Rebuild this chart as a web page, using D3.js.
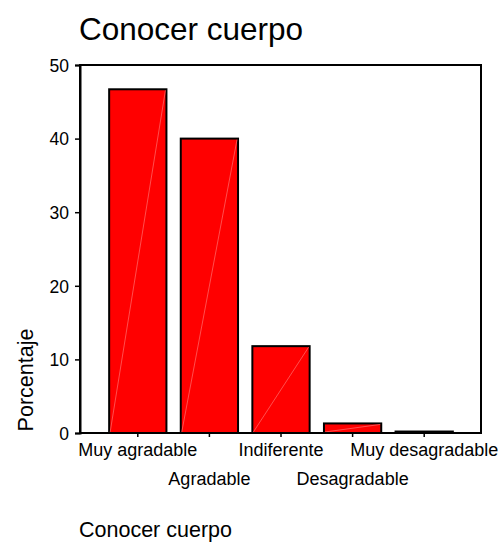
<!DOCTYPE html>
<html>
<head>
<meta charset="utf-8">
<script src="https://cdn.jsdelivr.net/npm/d3@7"></script>
<style>
  html, body { margin: 0; padding: 0; background: #fff; }
  svg { display: block; }
  text { font-family: Arial, "Liberation Sans", sans-serif; fill: #000; }
</style>
</head>
<body>
<svg id="chart" width="498" height="545"></svg>
<script>
const categories = ["Muy agradable", "Agradable", "Indiferente", "Desagradable", "Muy desagradable"];
const percentages = [46.7, 40.0, 11.8, 1.3, 0.2];
const yTicks = [0, 10, 20, 30, 40, 50];
const chartTitle = "Conocer cuerpo";
const xAxisTitle = "Conocer cuerpo";
const yAxisTitle = "Porcentaje";

const svg = d3.select("#chart");
const plot = { left: 80, right: 481, top: 65, bottom: 433 };

const x = d3.scaleBand().domain(categories).range([102, 460]).paddingInner(0.2).paddingOuter(0.1);
const y = d3.scaleLinear().domain([0, 50]).range([plot.bottom, plot.top]);

// Title
svg.append("text").attr("x", 79).attr("y", 40).attr("font-size", 31.5).text(chartTitle);

// Bars
const data = categories.map((c, i) => ({ c, v: percentages[i] }));
const g = svg.append("g");
g.selectAll("rect.bar").data(data).join("rect")
  .attr("class", "bar")
  .attr("x", d => x(d.c))
  .attr("y", d => y(d.v))
  .attr("width", x.bandwidth())
  .attr("height", d => y(0) - y(d.v))
  .attr("fill", "#ff0000")
  .attr("stroke", "#000")
  .attr("stroke-width", 2);
g.selectAll("line.diag").data(data.filter(d => y(0) - y(d.v) > 3)).join("line")
  .attr("class", "diag")
  .attr("x1", d => x(d.c) + 1).attr("y1", y(0) - 1)
  .attr("x2", d => x(d.c) + x.bandwidth() - 1).attr("y2", d => y(d.v) + 1)
  .attr("stroke", "#ff7070").attr("stroke-width", 0.7);

// Frame
svg.append("rect")
  .attr("x", plot.left).attr("y", plot.top)
  .attr("width", plot.right - plot.left).attr("height", plot.bottom - plot.top)
  .attr("fill", "none").attr("stroke", "#000").attr("stroke-width", 2);

// Y axis
const yAxis = d3.axisLeft(y).tickValues(yTicks).tickSize(5).tickPadding(6).tickFormat(d3.format("d"));
const ya = svg.append("g").attr("transform", `translate(${plot.left},0)`).call(yAxis);
ya.select(".domain").attr("stroke-width", 2);
ya.selectAll(".tick line").attr("stroke-width", 1.5);
ya.selectAll(".tick text").attr("font-size", 17.5).attr("font-family", "Arial, 'Liberation Sans', sans-serif").attr("dy", "0.36em");

// X axis
const xAxis = d3.axisBottom(x).tickSize(4).tickPadding(0);
const xa = svg.append("g").attr("transform", `translate(0,${plot.bottom})`).call(xAxis);
xa.select(".domain").remove();
xa.selectAll(".tick line").attr("stroke-width", 1.5);
xa.selectAll(".tick text")
  .attr("font-size", 18)
  .attr("font-family", "Arial, 'Liberation Sans', sans-serif")
  .attr("dy", null)
  .attr("y", (d, i) => i % 2 === 0 ? 23 : 52);

// Axis titles
svg.append("text").attr("x", 79).attr("y", 537).attr("font-size", 21.5).text(xAxisTitle);
svg.append("text")
  .attr("transform", "translate(33,380) rotate(-90)")
  .attr("text-anchor", "middle")
  .attr("font-size", 21.5)
  .text(yAxisTitle);
</script>
</body>
</html>
